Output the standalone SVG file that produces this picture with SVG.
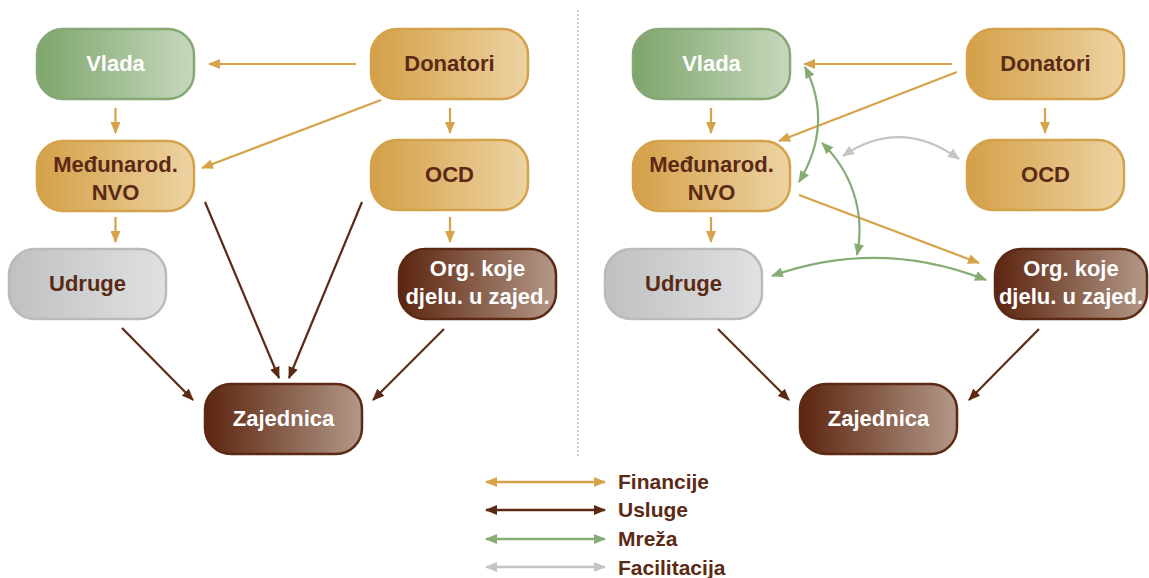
<svg xmlns="http://www.w3.org/2000/svg" width="1149" height="578" viewBox="0 0 1149 578">
<defs>
<linearGradient id="gGreen" x1="0" x2="1" y1="0" y2="0"><stop offset="0" stop-color="#7ea56c"/><stop offset="1" stop-color="#c6d8bc"/></linearGradient>
<linearGradient id="gGold" x1="0" x2="1" y1="0" y2="0"><stop offset="0" stop-color="#d4a048"/><stop offset="1" stop-color="#edd3a3"/></linearGradient>
<linearGradient id="gGrey" x1="0" x2="1" y1="0" y2="0"><stop offset="0" stop-color="#bfc0c2"/><stop offset="1" stop-color="#e0e1e3"/></linearGradient>
<linearGradient id="gBrown" x1="0" x2="1" y1="0" y2="0"><stop offset="0" stop-color="#5c2510"/><stop offset="1" stop-color="#b39888"/></linearGradient>
<marker id="mOr" viewBox="0 0 12 10" refX="11" refY="5" markerWidth="12" markerHeight="10" markerUnits="userSpaceOnUse" orient="auto-start-reverse"><path d="M0,0 L12,5 L0,10 Z" fill="#d6a24a"/></marker>
<marker id="mBr" viewBox="0 0 12 10" refX="11" refY="5" markerWidth="12" markerHeight="10" markerUnits="userSpaceOnUse" orient="auto-start-reverse"><path d="M0,0 L12,5 L0,10 Z" fill="#5c2a14"/></marker>
<marker id="mGr" viewBox="0 0 12 10" refX="11" refY="5" markerWidth="12" markerHeight="10" markerUnits="userSpaceOnUse" orient="auto-start-reverse"><path d="M0,0 L12,5 L0,10 Z" fill="#86ac74"/></marker>
<marker id="mGy" viewBox="0 0 12 10" refX="11" refY="5" markerWidth="12" markerHeight="10" markerUnits="userSpaceOnUse" orient="auto-start-reverse"><path d="M0,0 L12,5 L0,10 Z" fill="#c4c4c4"/></marker>
</defs>
<style>
.box{stroke-width:2.5}
.green{fill:url(#gGreen);stroke:#86a874}
.gold{fill:url(#gGold);stroke:#d5a24c}
.grey{fill:url(#gGrey);stroke:#b9babc}
.brown{fill:url(#gBrown);stroke:#5c2a14}
.t{font-family:"Liberation Sans",Arial,sans-serif;font-weight:bold;font-size:22px;text-anchor:middle}
.dk{fill:#5b2a14}
.wh{fill:#ffffff}
.or{stroke:#d6a24a;stroke-width:2.2;fill:none;marker-end:url(#mOr)}
.br{stroke:#5c2a14;stroke-width:2.2;fill:none;marker-end:url(#mBr)}
.gr{stroke:#86ac74;stroke-width:2.2;fill:none;marker-end:url(#mGr);marker-start:url(#mGr)}
.gy{stroke:#c4c4c4;stroke-width:2.2;fill:none;marker-end:url(#mGy);marker-start:url(#mGy)}
.lg{font-family:"Liberation Sans",Arial,sans-serif;font-weight:bold;font-size:21px;fill:#5b2a14}
</style>
<line x1="578" y1="10" x2="578" y2="456" stroke="#b0b0b0" stroke-width="1.2" stroke-dasharray="2,2"/>
<g id="connectors">
<line class="or" x1="356" y1="64" x2="209" y2="64"/>
<line class="or" x1="115.5" y1="108" x2="115.5" y2="133"/>
<line class="or" x1="450" y1="108" x2="450" y2="133"/>
<line class="or" x1="381" y1="100" x2="202" y2="168"/>
<line class="or" x1="115.5" y1="217" x2="115.5" y2="242"/>
<line class="or" x1="450" y1="217" x2="450" y2="242"/>
<line class="br" x1="205" y1="202" x2="279" y2="378"/>
<line class="br" x1="362" y1="202" x2="289" y2="378"/>
<line class="br" x1="122" y1="328" x2="193" y2="400"/>
<line class="br" x1="444" y1="329" x2="373" y2="400"/>
<line class="or" x1="952" y1="64" x2="804" y2="64"/>
<line class="or" x1="711" y1="108" x2="711" y2="133"/>
<line class="or" x1="1045" y1="108" x2="1045" y2="133"/>
<line class="or" x1="957" y1="72" x2="779" y2="141"/>
<line class="or" x1="799" y1="195" x2="979" y2="263"/>
<line class="or" x1="711" y1="217" x2="711" y2="242"/>
<path class="gr" d="M805,67 Q834,124 799,182"/>
<path class="gr" d="M822,143 C850,170 866,210 857,255"/>
<path class="gr" d="M772,276 Q879,238 986,280"/>
<path class="gy" d="M843,156 Q900,117 959,159"/>
<line class="br" x1="718" y1="329" x2="789" y2="400"/>
<line class="br" x1="1039" y1="329" x2="969" y2="400"/>
</g>
<g id="L-vlada"><rect class="box green" x="37" y="29" width="157" height="70" rx="26"/><text class="t wh" x="115.5" y="71">Vlada</text></g>
<g id="L-donatori"><rect class="box gold" x="371" y="29" width="157" height="70" rx="26"/><text class="t dk" x="449.5" y="71">Donatori</text></g>
<g id="L-nvo"><rect class="box gold" x="37" y="141" width="157" height="70" rx="26"/><text class="t dk" x="115.5" y="172">Međunarod.</text><text class="t dk" x="115.5" y="200">NVO</text></g>
<g id="L-ocd"><rect class="box gold" x="371" y="140" width="157" height="70" rx="26"/><text class="t dk" x="449.5" y="182">OCD</text></g>
<g id="L-udruge"><rect class="box grey" x="9" y="249" width="157" height="70" rx="26"/><text class="t dk" x="87.5" y="291">Udruge</text></g>
<g id="L-org"><rect class="box brown" x="399" y="249" width="157" height="70" rx="26"/><text class="t wh" x="477.5" y="276">Org. koje</text><text class="t wh" x="477.5" y="304">djelu. u zajed.</text></g>
<g id="L-zajednica"><rect class="box brown" x="205" y="384" width="157" height="70" rx="26"/><text class="t wh" x="283.5" y="426">Zajednica</text></g>
<g id="R-vlada"><rect class="box green" x="633" y="29" width="157" height="70" rx="26"/><text class="t wh" x="711.5" y="71">Vlada</text></g>
<g id="R-donatori"><rect class="box gold" x="967" y="29" width="157" height="70" rx="26"/><text class="t dk" x="1045.5" y="71">Donatori</text></g>
<g id="R-nvo"><rect class="box gold" x="633" y="141" width="157" height="70" rx="26"/><text class="t dk" x="711.5" y="172">Međunarod.</text><text class="t dk" x="711.5" y="200">NVO</text></g>
<g id="R-ocd"><rect class="box gold" x="967" y="140" width="157" height="70" rx="26"/><text class="t dk" x="1045.5" y="182">OCD</text></g>
<g id="R-udruge"><rect class="box grey" x="605" y="249" width="157" height="70" rx="26"/><text class="t dk" x="683.5" y="291">Udruge</text></g>
<g id="R-org"><rect class="box brown" x="995" y="249" width="152" height="70" rx="26"/><text class="t wh" x="1071" y="276">Org. koje</text><text class="t wh" x="1071" y="304">djelu. u zajed.</text></g>
<g id="R-zajednica"><rect class="box brown" x="800" y="384" width="157" height="70" rx="26"/><text class="t wh" x="878.5" y="426">Zajednica</text></g>
<g id="legend">
<line x1="486" y1="482" x2="605" y2="482" stroke="#d6a24a" stroke-width="2.5" marker-start="url(#mOr)" marker-end="url(#mOr)"/>
<line x1="486" y1="510" x2="605" y2="510" stroke="#5c2a14" stroke-width="2.5" marker-start="url(#mBr)" marker-end="url(#mBr)"/>
<line x1="486" y1="539" x2="605" y2="539" stroke="#86ac74" stroke-width="2.5" marker-start="url(#mGr)" marker-end="url(#mGr)"/>
<line x1="486" y1="567" x2="605" y2="567" stroke="#c4c4c4" stroke-width="2.5" marker-start="url(#mGy)" marker-end="url(#mGy)"/>
<text class="lg" x="618" y="489">Financije</text>
<text class="lg" x="618" y="517">Usluge</text>
<text class="lg" x="618" y="546">Mreža</text>
<text class="lg" x="618" y="575">Facilitacija</text>
</g>
</svg>
